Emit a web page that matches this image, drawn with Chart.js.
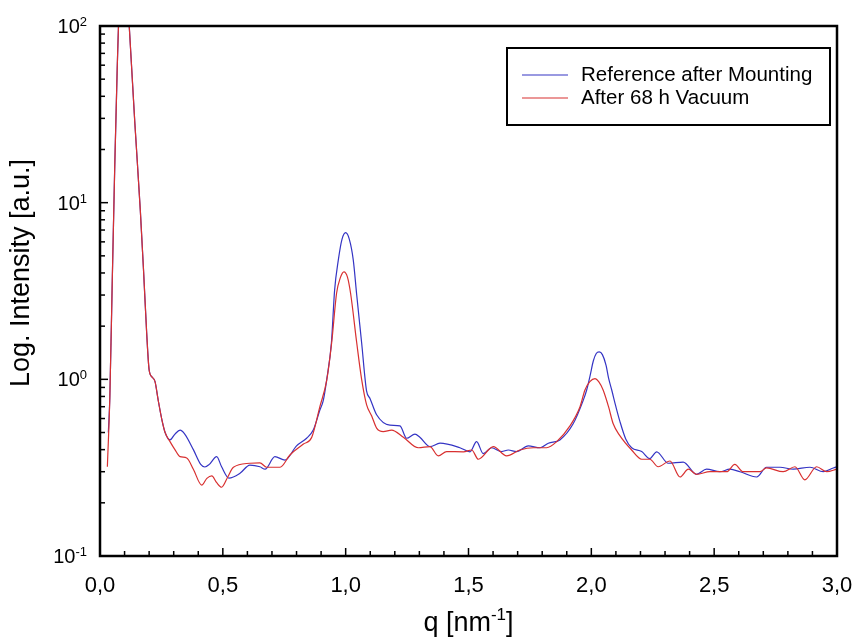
<!DOCTYPE html>
<html>
<head>
<meta charset="utf-8">
<script src="https://cdn.jsdelivr.net/npm/chart.js@4.4.1/dist/chart.umd.min.js"></script>
<style>
  html, body { margin: 0; padding: 0; background: #fff; }
  #wrap { width: 853px; height: 637px; }
</style>
</head>
<body>
<div id="wrap"><canvas id="chart"></canvas></div>
<script>
const SERIES_LABELS = ['Reference after Mounting', 'After 68 h Vacuum'];
const SERIES_COLORS = ['#3434c4', '#d83030'];

// Reference after Mounting
const refQ = [0.034, 0.04, 0.05, 0.06, 0.07, 0.08, 0.09, 0.10, 0.11, 0.119, 0.142, 0.164, 0.177, 0.19, 0.2,
  0.212, 0.224, 0.237, 0.252, 0.265, 0.285, 0.305, 0.326, 0.345, 0.38, 0.41, 0.427, 0.445, 0.475, 0.495,
  0.525, 0.57, 0.61, 0.651, 0.672, 0.712, 0.753, 0.80, 0.841, 0.868, 0.895, 0.909, 0.923, 0.942, 0.955,
  0.970, 0.985, 1.0, 1.015, 1.031, 1.045, 1.065, 1.085, 1.099, 1.126, 1.18, 1.221, 1.248, 1.282, 1.302,
  1.343, 1.384, 1.465, 1.506, 1.533, 1.56, 1.594, 1.635, 1.662, 1.696, 1.743, 1.791, 1.825, 1.872, 1.926,
  1.967, 1.981, 1.995, 2.008, 2.02, 2.032, 2.045, 2.06, 2.07, 2.083, 2.10, 2.116, 2.14, 2.164, 2.205,
  2.238, 2.266, 2.313, 2.374, 2.428, 2.469, 2.523, 2.564, 2.605, 2.673, 2.713, 2.768, 2.822, 2.89, 2.944,
  2.985, 3.0];
const refI = [0.50, 0.79, 3.65, 16, 57, 150, 220, 230, 170, 100, 28, 9.1, 4.2, 1.83, 1.13,
  1.03, 0.97, 0.76, 0.59, 0.50, 0.454, 0.49, 0.516, 0.49, 0.40, 0.33, 0.319, 0.33, 0.365, 0.32,
  0.276, 0.294, 0.327, 0.32, 0.31, 0.365, 0.349, 0.42, 0.464, 0.516, 0.67, 0.76, 1.0, 1.61, 3.2,
  4.73, 6.2, 6.76, 6.2, 4.73, 3.0, 1.61, 0.86, 0.78, 0.63, 0.55, 0.545, 0.464, 0.49, 0.47,
  0.416, 0.435, 0.41, 0.389, 0.444, 0.38, 0.41, 0.39, 0.398, 0.39, 0.42, 0.41, 0.435, 0.454, 0.56,
  0.76, 0.87, 1.05, 1.27, 1.40, 1.43, 1.38, 1.2, 1.02, 0.87, 0.70, 0.58, 0.46, 0.41, 0.39,
  0.356, 0.389, 0.335, 0.34, 0.29, 0.31, 0.30, 0.31, 0.30, 0.28, 0.318, 0.318, 0.31, 0.318, 0.30,
  0.315, 0.32];

// After 68 h Vacuum
const vacQ = [0.03, 0.04, 0.05, 0.06, 0.07, 0.08, 0.09, 0.10, 0.11, 0.119, 0.142, 0.164, 0.177, 0.19, 0.2,
  0.212, 0.224, 0.237, 0.252, 0.265, 0.285, 0.305, 0.326, 0.353, 0.38, 0.414, 0.435, 0.455, 0.475, 0.495,
  0.52, 0.543, 0.61, 0.651, 0.678, 0.733, 0.773, 0.828, 0.862, 0.895, 0.923, 0.943, 0.963, 0.978, 0.993,
  1.007, 1.02, 1.045, 1.065, 1.085, 1.106, 1.126, 1.153, 1.187, 1.235, 1.296, 1.343, 1.377, 1.411, 1.479,
  1.513, 1.54, 1.601, 1.655, 1.709, 1.764, 1.818, 1.859, 1.913, 1.954, 1.974, 1.994, 2.015, 2.03, 2.048,
  2.07, 2.089, 2.116, 2.164, 2.205, 2.238, 2.272, 2.32, 2.361, 2.395, 2.428, 2.483, 2.551, 2.584, 2.618,
  2.686, 2.713, 2.781, 2.829, 2.869, 2.917, 2.958, 2.998];
const vacI = [0.32, 0.79, 3.65, 16, 57, 150, 220, 230, 170, 100, 28, 9.1, 4.2, 1.83, 1.13,
  1.03, 0.97, 0.76, 0.59, 0.50, 0.444, 0.40, 0.365, 0.359, 0.31, 0.252, 0.275, 0.284, 0.26, 0.245,
  0.28, 0.318, 0.335, 0.337, 0.318, 0.318, 0.373, 0.43, 0.47, 0.70, 0.99, 1.61, 3.07, 3.75, 4.06,
  3.8, 3.07, 1.61, 1.0, 0.72, 0.62, 0.53, 0.506, 0.516, 0.47, 0.41, 0.416, 0.369, 0.39, 0.389,
  0.398, 0.353, 0.416, 0.369, 0.398, 0.41, 0.41, 0.444, 0.545, 0.70, 0.87, 0.97, 1.01, 0.97, 0.87,
  0.70, 0.56, 0.48, 0.398, 0.353, 0.353, 0.32, 0.345, 0.28, 0.31, 0.29, 0.30, 0.30, 0.33, 0.30,
  0.30, 0.315, 0.30, 0.32, 0.27, 0.32, 0.30, 0.31];

const xTicks = [0, 0.5, 1.0, 1.5, 2.0, 2.5, 3.0];
const xTickLabels = ['0,0', '0,5', '1,0', '1,5', '2,0', '2,5', '3,0'];
const xMinorStep = 0.1;
const yDecades = [0.1, 1, 10, 100];
const yExponents = ['-1', '0', '1', '2'];

const toPoints = (qs, vals) => qs.map((q, i) => ({ x: q, y: vals[i] }));

// draws text pieces (base + superscripts) left to right
function drawPieces(ctx, pieces, x, y, align) {
  const widths = pieces.map((p) => {
    ctx.font = p.font;
    return ctx.measureText(p.text).width;
  });
  const total = widths.reduce((a, b) => a + b, 0);
  let left = align === 'right' ? x - total : align === 'center' ? x - total / 2 : x;
  ctx.textAlign = 'left';
  ctx.textBaseline = 'alphabetic';
  pieces.forEach((p, i) => {
    ctx.font = p.font;
    ctx.fillText(p.text, left, y - (p.raise || 0));
    left += widths[i];
  });
}

const FONT = '"Liberation Sans", Arial, sans-serif';

const frameAndLabels = {
  id: 'frameAndLabels',
  afterDatasetsDraw(chart) {
    const { ctx, chartArea: a, scales: { x, y } } = chart;
    ctx.save();
    ctx.strokeStyle = '#000';
    ctx.fillStyle = '#000';

    // x ticks, inward
    ctx.lineWidth = 1.5;
    const nMinor = Math.round((x.max - x.min) / xMinorStep);
    for (let i = 0; i <= nMinor; i++) {
      const v = x.min + i * xMinorStep;
      const px = x.getPixelForValue(v);
      const major = xTicks.some((t) => Math.abs(t - v) < 1e-6);
      ctx.beginPath();
      ctx.moveTo(px, a.bottom);
      ctx.lineTo(px, a.bottom - (major ? 8 : 5));
      ctx.stroke();
    }
    ctx.font = `22px ${FONT}`;
    ctx.textAlign = 'center';
    ctx.textBaseline = 'alphabetic';
    xTicks.forEach((t, i) => {
      ctx.fillText(xTickLabels[i], x.getPixelForValue(t), a.bottom + 36);
    });

    // y ticks, inward
    yDecades.forEach((d, k) => {
      const py = y.getPixelForValue(d);
      ctx.beginPath();
      ctx.moveTo(a.left, py);
      ctx.lineTo(a.left + 8, py);
      ctx.stroke();
      if (k < yDecades.length - 1) {
        for (let m = 2; m <= 9; m++) {
          const pm = y.getPixelForValue(d * m);
          ctx.beginPath();
          ctx.moveTo(a.left, pm);
          ctx.lineTo(a.left + 5, pm);
          ctx.stroke();
        }
      }
      // label 10^n
      drawPieces(ctx, [
        { text: '10', font: `20px ${FONT}` },
        { text: yExponents[k], font: `13px ${FONT}`, raise: 7 },
      ], a.left - 13, py + 7, 'right');
    });

    // frame
    ctx.lineWidth = 2.5;
    ctx.strokeRect(a.left, a.top, a.right - a.left, a.bottom - a.top);

    // axis titles
    drawPieces(ctx, [
      { text: 'q [nm', font: `27px ${FONT}` },
      { text: '-1', font: `17px ${FONT}`, raise: 11 },
      { text: ']', font: `27px ${FONT}` },
    ], (a.left + a.right) / 2, 631, 'center');

    ctx.save();
    ctx.translate(22, 273);
    ctx.rotate(-Math.PI / 2);
    ctx.font = `27px ${FONT}`;
    ctx.textAlign = 'center';
    ctx.textBaseline = 'middle';
    ctx.fillText('Log. Intensity [a.u.]', 0, 0);
    ctx.restore();

    // legend box
    const lx = a.right - 330;
    const ly = a.top + 22;
    ctx.lineWidth = 2;
    ctx.strokeRect(lx, ly, 323, 77);
    ctx.font = `20.5px ${FONT}`;
    ctx.textAlign = 'left';
    ctx.textBaseline = 'middle';
    chart.data.datasets.forEach((ds, i) => {
      const yy = ly + 27 + i * 23;
      ctx.strokeStyle = ds.borderColor;
      ctx.lineWidth = 1.2;
      ctx.beginPath();
      ctx.moveTo(lx + 15, yy);
      ctx.lineTo(lx + 61, yy);
      ctx.stroke();
      ctx.fillStyle = '#000';
      ctx.fillText(ds.label, lx + 74, yy);
    });
    ctx.restore();
  },
};

new Chart(document.getElementById('chart'), {
  type: 'line',
  data: {
    datasets: [
      {
        label: SERIES_LABELS[0],
        data: toPoints(refQ, refI),
        borderColor: SERIES_COLORS[0],
        borderWidth: 1.2,
        pointRadius: 0,
        cubicInterpolationMode: 'monotone',
        clip: 0,
        order: 1,
      },
      {
        label: SERIES_LABELS[1],
        data: toPoints(vacQ, vacI),
        borderColor: SERIES_COLORS[1],
        borderWidth: 1.2,
        pointRadius: 0,
        cubicInterpolationMode: 'monotone',
        clip: 0,
        order: 0,
      },
    ],
  },
  options: {
    responsive: true,
    maintainAspectRatio: false,
    animation: false,
    layout: { padding: { left: 100, right: 16, top: 26, bottom: 81 } },
    plugins: {
      legend: { display: false },
      tooltip: { enabled: false },
    },
    scales: {
      x: {
        type: 'linear',
        min: 0,
        max: 3,
        display: false,
      },
      y: {
        type: 'logarithmic',
        min: 0.1,
        max: 100,
        display: false,
      },
    },
  },
  plugins: [frameAndLabels],
});
</script>
</body>
</html>
